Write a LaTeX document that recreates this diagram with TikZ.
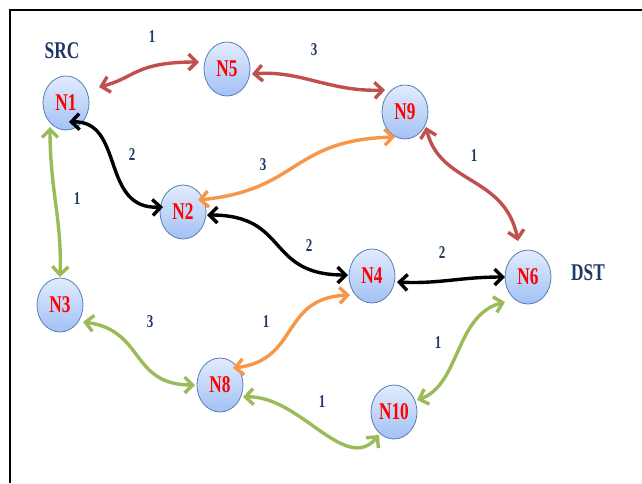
\documentclass[tikz,border=0pt]{standalone}
\usepackage{fontspec}
\newfontfamily\cfont[FakeStretch=0.72]{Liberation Serif}
\usetikzlibrary{arrows.meta,shapes.geometric,calc}
\definecolor{ered}{HTML}{C0504D}
\definecolor{eorange}{HTML}{F79646}
\definecolor{egreen}{HTML}{9BBB59}
\definecolor{navy}{HTML}{1F3864}
\definecolor{ntop}{HTML}{E2ECFC}
\definecolor{nbot}{HTML}{A2C1F5}
\definecolor{nedge}{HTML}{5A7DB4}
\begin{document}
\begin{tikzpicture}[x=1pt,y=-1pt,
  nd/.style={ellipse, minimum width=46pt, minimum height=54pt, inner sep=0pt,
    draw=nedge, line width=0.8pt, top color=ntop, bottom color=nbot, text=red,
    font=\cfont\bfseries\fontsize{24}{24}\selectfont},
  lbl/.style={text=navy, inner sep=0pt, font=\cfont\bfseries\fontsize{18}{18}\selectfont},
  tag/.style={text=navy, inner sep=0pt, font=\cfont\bfseries\fontsize{24}{24}\selectfont},
  link/.style={line width=3.4pt, line cap=round,
    {Straight Barb[length=8pt,width=16pt]}-{Straight Barb[length=8pt,width=16pt]}}
]
\useasboundingbox (0,0) rectangle (642,483);
\fill[white] (0,0) rectangle (642,483);
\draw[line width=2pt] (10,483) -- (10,10) -- (642,10);

% nodes
\node[nd] (n1) at (66,103) {N1};
\node[nd] (n5) at (227,69) {N5};
\node[nd] (n9) at (405,112) {N9};
\node[nd] (n2) at (183,212) {N2};
\node[nd] (n4) at (372,276) {N4};
\node[nd] (n6) at (528,277) {N6};
\node[nd] (n3) at (60,305) {N3};
\node[nd] (n8) at (220,385) {N8};
\node[nd] (n10) at (394,412) {N10};

\node[tag] (src) at (62,51) {SRC};
\node[tag] (dst) at (588,273) {DST};

% edges
\draw[link, ered] ($(n1)+(33,-16)$) .. controls (135,78) and (135,62) .. ($(n5)+(-28,-7)$);
\draw[link, ered] ($(n5)+(25,5)$) .. controls (300,70) and (330,92) .. ($(n9)+(-20,-22)$);
\draw[link, ered] ($(n9)+(21,15)$) .. controls (440,185) and (505,175) .. ($(n6)+(-10,-36)$);
\draw[link, black] ($(n1)+(3,19)$) .. controls (125,120) and (100,210) .. ($(n2)+(-20,-5)$);
\draw[link, eorange] ($(n2)+(15,-12)$) .. controls (300,190) and (290,140) .. ($(n9)+(-10,25)$);
\draw[link, black] ($(n2)+(24,3)$) .. controls (290,215) and (265,275) .. ($(n4)+(-24,-1)$);
\draw[link, black] ($(n4)+(25,6)$) .. controls (440,284) and (460,277) .. ($(n6)+(-23,0)$);
\draw[link, eorange] ($(n8)+(13,-17)$) .. controls (300,360) and (280,298) .. ($(n4)+(-22,19)$);
\draw[link, egreen] ($(n1)+(-16,24)$) .. controls (50,190) and (62,220) .. ($(n3)+(0,-28)$);
\draw[link, egreen] ($(n3)+(23,17)$) .. controls (145,330) and (130,385) .. ($(n8)+(-25,0)$);
\draw[link, egreen] ($(n8)+(23,12)$) .. controls (300,395) and (345,475) .. ($(n10)+(-15,23)$);
\draw[link, egreen] ($(n10)+(23,-12)$) .. controls (460,385) and (455,315) .. ($(n6)+(-23,25)$);

% edge labels
\node[lbl] (l15) at (152,37) {1};
\node[lbl] (l59) at (314,50) {3};
\node[lbl] (l12) at (132,155) {2};
\node[lbl] (l92) at (263,165) {3};
\node[lbl] (l96) at (474,156) {1};
\node[lbl] (l13) at (77,199) {1};
\node[lbl] (l24) at (309,246) {2};
\node[lbl] (l46) at (442,253) {2};
\node[lbl] (l38) at (150,322) {3};
\node[lbl] (l48) at (266,322) {1};
\node[lbl] (l106) at (438,343) {1};
\node[lbl] (l810) at (322,402) {1};
\end{tikzpicture}
\end{document}
